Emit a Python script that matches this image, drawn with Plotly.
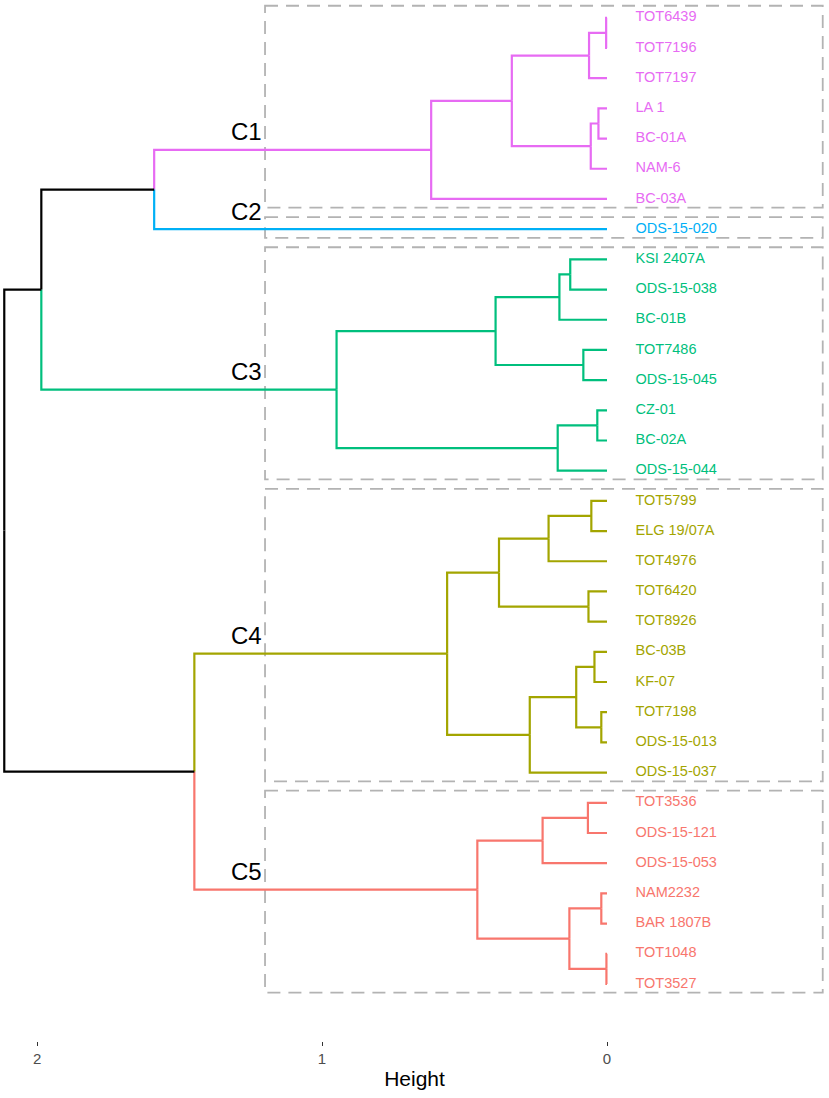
import plotly.graph_objects as go

# ---------------- data ----------------
leaf_labels = ["TOT6439", "TOT7196", "TOT7197", "LA 1", "BC-01A", "NAM-6", "BC-03A",
               "ODS-15-020",
               "KSI 2407A", "ODS-15-038", "BC-01B", "TOT7486", "ODS-15-045", "CZ-01", "BC-02A", "ODS-15-044",
               "TOT5799", "ELG 19/07A", "TOT4976", "TOT6420", "TOT8926", "BC-03B", "KF-07", "TOT7198",
               "ODS-15-013", "ODS-15-037",
               "TOT3536", "ODS-15-121", "ODS-15-053", "NAM2232", "BAR 1807B", "TOT1048", "TOT3527"]

cluster_names = ["C1", "C2", "C3", "C4", "C5"]
cluster_sizes = [7, 1, 8, 10, 7]
cluster_colors = ["#E76BF3", "#00B0F6", "#00BF7D", "#A3A500", "#F8766D"]

# merges: a, b (leaf name or "#k" = earlier merge k), height
merge_a = ["TOT6439", "#0", "LA 1", "#2", "#1", "#4",
           "KSI 2407A", "#6", "TOT7486", "#7", "CZ-01", "#10", "#9",
           "TOT5799", "#13", "TOT6420", "#14", "BC-03B", "TOT7198", "#17", "#19", "#16",
           "TOT3536", "#22", "NAM2232", "TOT1048", "#24", "#23",
           "#5", "#28", "#21", "#29"]
merge_b = ["TOT7196", "TOT7197", "BC-01A", "NAM-6", "#3", "BC-03A",
           "ODS-15-038", "BC-01B", "ODS-15-045", "#8", "BC-02A", "ODS-15-044", "#11",
           "ELG 19/07A", "TOT4976", "TOT8926", "#15", "KF-07", "ODS-15-013", "#18", "ODS-15-037", "#20",
           "ODS-15-121", "ODS-15-053", "BAR 1807B", "TOT3527", "#25", "#26",
           "ODS-15-020", "#12", "#27", "#30"]
merge_h = [0.003, 0.063, 0.030, 0.057, 0.334, 0.617,
           0.129, 0.167, 0.083, 0.391, 0.034, 0.173, 0.949,
           0.055, 0.205, 0.065, 0.379, 0.044, 0.020, 0.108, 0.271, 0.561,
           0.067, 0.226, 0.020, 0.002, 0.132, 0.455,
           1.589, 1.985, 1.448, 2.115]

x_ticks = [0, 1, 2]
x_title = "Height"

# ---------------- style ----------------
FONT = "Liberation Sans, Arial"
LINE_W = 2.2
LABEL_GAP = 0.10          # label offset right of leaves (height units)
RECT_LEFT = 1.2
RECT_RIGHT = -0.757
RECT_PAD_TOP = 0.40
RECT_PAD_BOT = 0.29
RECT_COLOR = "#B3B3B3"

# ---------------- geometry from data ----------------
leaf_pos = {name: i + 1 for i, name in enumerate(leaf_labels)}
leaf_cluster = {}
idx = 0
for ci, size in enumerate(cluster_sizes):
    for _ in range(size):
        leaf_cluster[leaf_labels[idx]] = ci
        idx += 1

node_y, node_h, node_leaves = {}, {}, {}
for name in leaf_labels:
    node_y[name] = leaf_pos[name]
    node_h[name] = 0.0
    node_leaves[name] = [name]
for k, (a, b, h) in enumerate(zip(merge_a, merge_b, merge_h)):
    key = "#%d" % k
    node_y[key] = (node_y[a] + node_y[b]) / 2
    node_h[key] = h
    node_leaves[key] = node_leaves[a] + node_leaves[b]


def node_color(key):
    cs = {leaf_cluster[l] for l in node_leaves[key]}
    return cluster_colors[cs.pop()] if len(cs) == 1 else "#000000"


segs = {}
for k, (a, b, h) in enumerate(zip(merge_a, merge_b, merge_h)):
    key = "#%d" % k
    for child in (a, b):
        c = node_color(child)
        xs, ys = segs.setdefault(c, ([], []))
        xs += [h, h, node_h[child], None]
        ys += [node_y[key], node_y[child], node_y[child], None]

fig = go.Figure()
for c, (xs, ys) in segs.items():
    fig.add_trace(go.Scatter(x=xs, y=ys, mode="lines", line=dict(color=c, width=LINE_W),
                             hoverinfo="skip", showlegend=False))

# leaf labels
for ci in range(len(cluster_names)):
    names = [l for l in leaf_labels if leaf_cluster[l] == ci]
    fig.add_trace(go.Scatter(x=[-LABEL_GAP] * len(names), y=[leaf_pos[n] for n in names],
                             mode="text", text=names, textposition="middle right",
                             textfont=dict(color=cluster_colors[ci], size=14.5, family=FONT),
                             hoverinfo="skip", showlegend=False))

# cluster rectangles and labels
start = 1
for ci, size in enumerate(cluster_sizes):
    first, last = start, start + size - 1
    start += size
    fig.add_shape(type="rect", x0=RECT_LEFT, x1=RECT_RIGHT,
                  y0=first - RECT_PAD_TOP, y1=last + RECT_PAD_BOT,
                  line=dict(color=RECT_COLOR, width=1.8, dash="13px,8px"),
                  fillcolor="rgba(0,0,0,0)", layer="below")
    members = leaf_labels[first - 1:last]
    root_key = None
    for k in range(len(merge_h)):
        key = "#%d" % k
        if sorted(node_leaves[key]) == sorted(members):
            root_key = key
    ry = node_y[root_key] if root_key else node_y[members[0]]
    fig.add_annotation(x=RECT_LEFT, y=ry, text=cluster_names[ci], showarrow=False,
                       xanchor="right", yanchor="middle", xshift=-1, yshift=18,
                       font=dict(size=24, color="#000000", family=FONT))

fig.update_layout(
    width=829, height=1098,
    margin=dict(l=0, r=0, t=0, b=57),
    plot_bgcolor="white", paper_bgcolor="white",
    xaxis=dict(range=[2.130, -0.779], tickvals=x_ticks, ticktext=[str(t) for t in x_ticks],
               ticks="outside", ticklen=4, tickwidth=1, tickcolor="#333333",
               showgrid=False, zeroline=False, showline=False,
               tickfont=dict(size=15, color="#4D4D4D", family=FONT),
               title=dict(text=x_title, standoff=5,
                          font=dict(size=21, color="#000000", family=FONT))),
    yaxis=dict(range=[34.89, 0.41], visible=False, showgrid=False, zeroline=False),
)

# remove the browser's default 8px body margin so the figure sits at the page origin
fig.write_html("out.html", config={"displayModeBar": False},
               post_script="document.body.style.margin='0';")
